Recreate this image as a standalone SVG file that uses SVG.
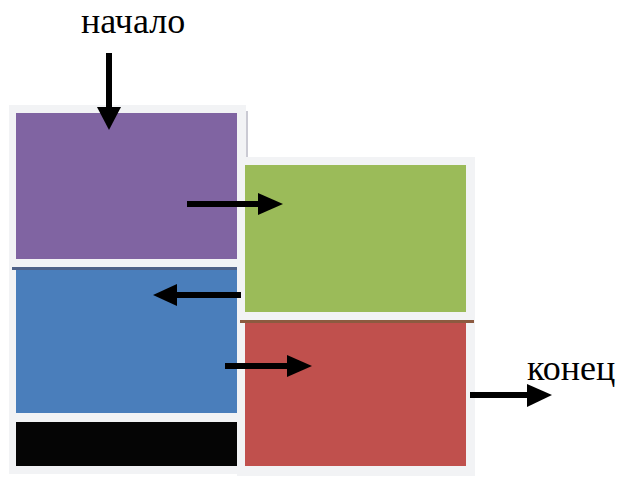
<svg xmlns="http://www.w3.org/2000/svg" width="623" height="477" viewBox="0 0 623 477">
<style>
.frame{fill:#f2f3f5}
.lbl{font-family:"Liberation Serif","Times New Roman",serif;font-size:36px;fill:#000}
.shaft{stroke:#000;stroke-width:6;fill:none}
.head{fill:#000}
</style>
<rect width="623" height="477" fill="#fff"/>
<g id="frames">
<rect class="frame" x="9" y="105" width="237" height="369"/>
<line x1="247" y1="111" x2="247" y2="157" stroke="#b8b8c4" stroke-width="1.5"/>
<rect class="frame" x="237" y="157" width="238" height="319"/>
</g>
<g id="purple"><rect x="16" y="113" width="221" height="146" fill="#8064a2"/></g>
<g id="blue"><rect x="16" y="268" width="221" height="145" fill="#4a7ebb"/><rect x="12" y="267" width="225" height="3" fill="#4f6288"/></g>
<g id="black"><rect x="16" y="422" width="221" height="44" fill="#050505"/></g>
<g id="green"><rect x="245" y="165" width="221" height="147" fill="#9bbb59"/></g>
<g id="red"><rect x="245" y="321" width="221" height="145" fill="#c0504d"/><rect x="240" y="320" width="234" height="3" fill="#8c5a40"/></g>
<g id="labels">
<text class="lbl" x="81" y="33">начало</text>
<text class="lbl" x="527" y="380">конец</text>
</g>
<g id="connectors">
<line class="shaft" x1="109" y1="53" x2="109" y2="110"/>
<polygon class="head" points="97,107 121,107 109,130"/>
<line class="shaft" x1="187" y1="204" x2="260" y2="204"/>
<polygon class="head" points="258,193 258,215 283,204"/>
<line class="shaft" x1="241" y1="295" x2="175" y2="295"/>
<polygon class="head" points="177,284 177,306 153,295"/>
<line class="shaft" x1="225" y1="366" x2="289" y2="366"/>
<polygon class="head" points="287,355 287,377 312,366"/>
<line class="shaft" x1="470" y1="395" x2="529" y2="395"/>
<polygon class="head" points="527,384 527,407 552,395"/>
</g>
</svg>
